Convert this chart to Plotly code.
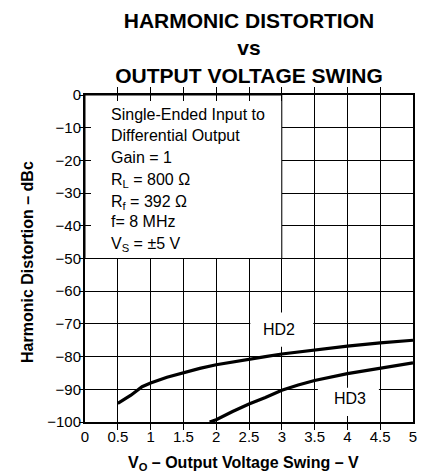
import plotly.graph_objects as go

# ---- data ----
hd2_x = [0.5, 0.7, 0.87, 1.0, 1.25, 1.5, 1.75, 2.0, 2.25, 2.5, 2.75, 3.0, 3.5, 4.0, 4.5, 5.0]
hd2_y = [-94.3, -91.8, -89.2, -88.1, -86.3, -84.9, -83.6, -82.5, -81.6, -80.8, -80.0, -79.2, -77.9, -76.8, -75.8, -75.0]

hd3_x = [1.9, 2.0, 2.25, 2.5, 2.75, 3.0, 3.25, 3.5, 4.0, 4.5, 5.0]
hd3_y = [-100.0, -99.3, -96.8, -94.5, -92.5, -90.3, -88.7, -87.3, -85.2, -83.5, -81.9]

x_ticks = [0, 0.5, 1, 1.5, 2, 2.5, 3, 3.5, 4, 4.5, 5]
x_tick_text = ["0", "0.5", "1", "1.5", "2", "2.5", "3", "3.5", "4", "4.5", "5"]
y_ticks = [0, -10, -20, -30, -40, -50, -60, -70, -80, -90, -100]
y_tick_text = ["0", "\u221210", "\u221220", "\u221230", "\u221240", "\u221250",
               "\u221260", "\u221270", "\u221280", "\u221290", "\u2212100"]

title_lines = ["HARMONIC DISTORTION", "vs", "OUTPUT VOLTAGE SWING"]
cond_lines = ["Single-Ended Input to", "Differential Output", "Gain = 1",
              "R<sub>L</sub> = 800 \u03a9", "R<sub>f</sub> = 392 \u03a9",
              "f= 8 MHz", "V<sub>S</sub> = \u00b15 V"]
series_names = ["HD2", "HD3"]
x_title = "V<sub>O</sub> \u2013 Output Voltage Swing \u2013 V"
y_title = "Harmonic Distortion \u2013 dBc"

FONT = "Liberation Sans, Arial, sans-serif"

# plot-area geometry (pixels)
L, R, T, B = 85, 413, 95, 422
W, H = 448, 471


def px_to_y(py):
    return -(py - T) / (B - T) * 100.0


fig = go.Figure()
fig.add_trace(go.Scatter(x=hd2_x, y=hd2_y, mode="lines", name=series_names[0],
                         line=dict(color="black", width=3.2), showlegend=False))
fig.add_trace(go.Scatter(x=hd3_x, y=hd3_y, mode="lines", name=series_names[1],
                         line=dict(color="black", width=3.2), showlegend=False))
# helper trace to realise crossing ticks on the left axis
fig.add_trace(go.Scatter(x=[], y=[], xaxis="x", yaxis="y2", showlegend=False))

fig.update_layout(
    width=W, height=H,
    margin=dict(l=L, r=W - R, t=T, b=H - B),
    paper_bgcolor="white", plot_bgcolor="white",
    font=dict(family=FONT, color="black", size=15),
    title=dict(text="<b>" + "<br>".join(title_lines) + "</b>",
               font=dict(family=FONT, size=21, color="black"),
               x=249 / W, xanchor="center", xref="container",
               y=1 - 28 / H, yanchor="top", yref="container"),
    xaxis=dict(range=[0, 5], tickvals=x_ticks, ticktext=x_tick_text,
               showgrid=True, gridcolor="black", gridwidth=1,
               showline=True, linecolor="black", linewidth=2, mirror="allticks",
               ticks="inside", ticklen=6, tickcolor="black", tickwidth=1,
               zeroline=False, tickfont=dict(size=15)),
    yaxis=dict(range=[-100, 0], tickvals=y_ticks, ticktext=y_tick_text,
               showgrid=True, gridcolor="black", gridwidth=1,
               showline=True, linecolor="black", linewidth=2, mirror=True,
               ticks="outside", ticklen=4, tickcolor="black", tickwidth=1,
               ticklabelstandoff=-5,
               zeroline=False, tickfont=dict(size=15)),
    yaxis2=dict(range=[-100, 0], tickvals=y_ticks, overlaying="y", side="left",
                showgrid=False, showline=False, zeroline=False,
                ticks="inside", ticklen=6, tickcolor="black", tickwidth=1,
                showticklabels=False),
)

# white patches hiding the grid behind the texts
fig.add_shape(type="rect", xref="x", yref="y", x0=0, x1=3, y0=-50, y1=0,
              fillcolor="white", line=dict(color="black", width=1), layer="between")
fig.add_shape(type="rect", xref="x", yref="y", x0=2.52, x1=3.48, y0=-77, y1=-66.5,
              fillcolor="white", line=dict(width=0), layer="between")
fig.add_shape(type="rect", xref="x", yref="y", x0=3.55, x1=4.48, y0=-98.5, y1=-89.5,
              fillcolor="white", line=dict(width=0), layer="between")

# test-condition lines
for i, line in enumerate(cond_lines):
    py = 114.5 + i * 21.3
    if "<sub>" in line:
        py += 2.5
    fig.add_annotation(text=line, xref="x", yref="y", x=0.37, y=px_to_y(py),
                       xanchor="left", yanchor="middle", align="left",
                       showarrow=False, font=dict(size=16))

fig.add_annotation(text=series_names[0], xref="x", yref="y", x=2.96, y=-71.7,
                   showarrow=False, font=dict(size=16))
fig.add_annotation(text=series_names[1], xref="x", yref="y", x=4.04, y=-92.8,
                   showarrow=False, font=dict(size=16))
fig.add_annotation(text="<b>" + x_title + "</b>", xref="paper", yref="paper",
                   x=(243 - L) / (R - L), y=(B - 463) / (B - T), xanchor="center",
                   yanchor="middle", showarrow=False, font=dict(size=16))
fig.add_annotation(text="<b>" + y_title + "</b>", xref="paper", yref="paper",
                   x=(27 - L) / (R - L), y=(B - 262) / (B - T), xanchor="center",
                   yanchor="middle", textangle=-90, showarrow=False,
                   font=dict(size=16))

fig.write_html("out.html", config={"displayModeBar": False},
               post_script="document.body.style.margin='0';document.body.style.overflow='hidden';")
